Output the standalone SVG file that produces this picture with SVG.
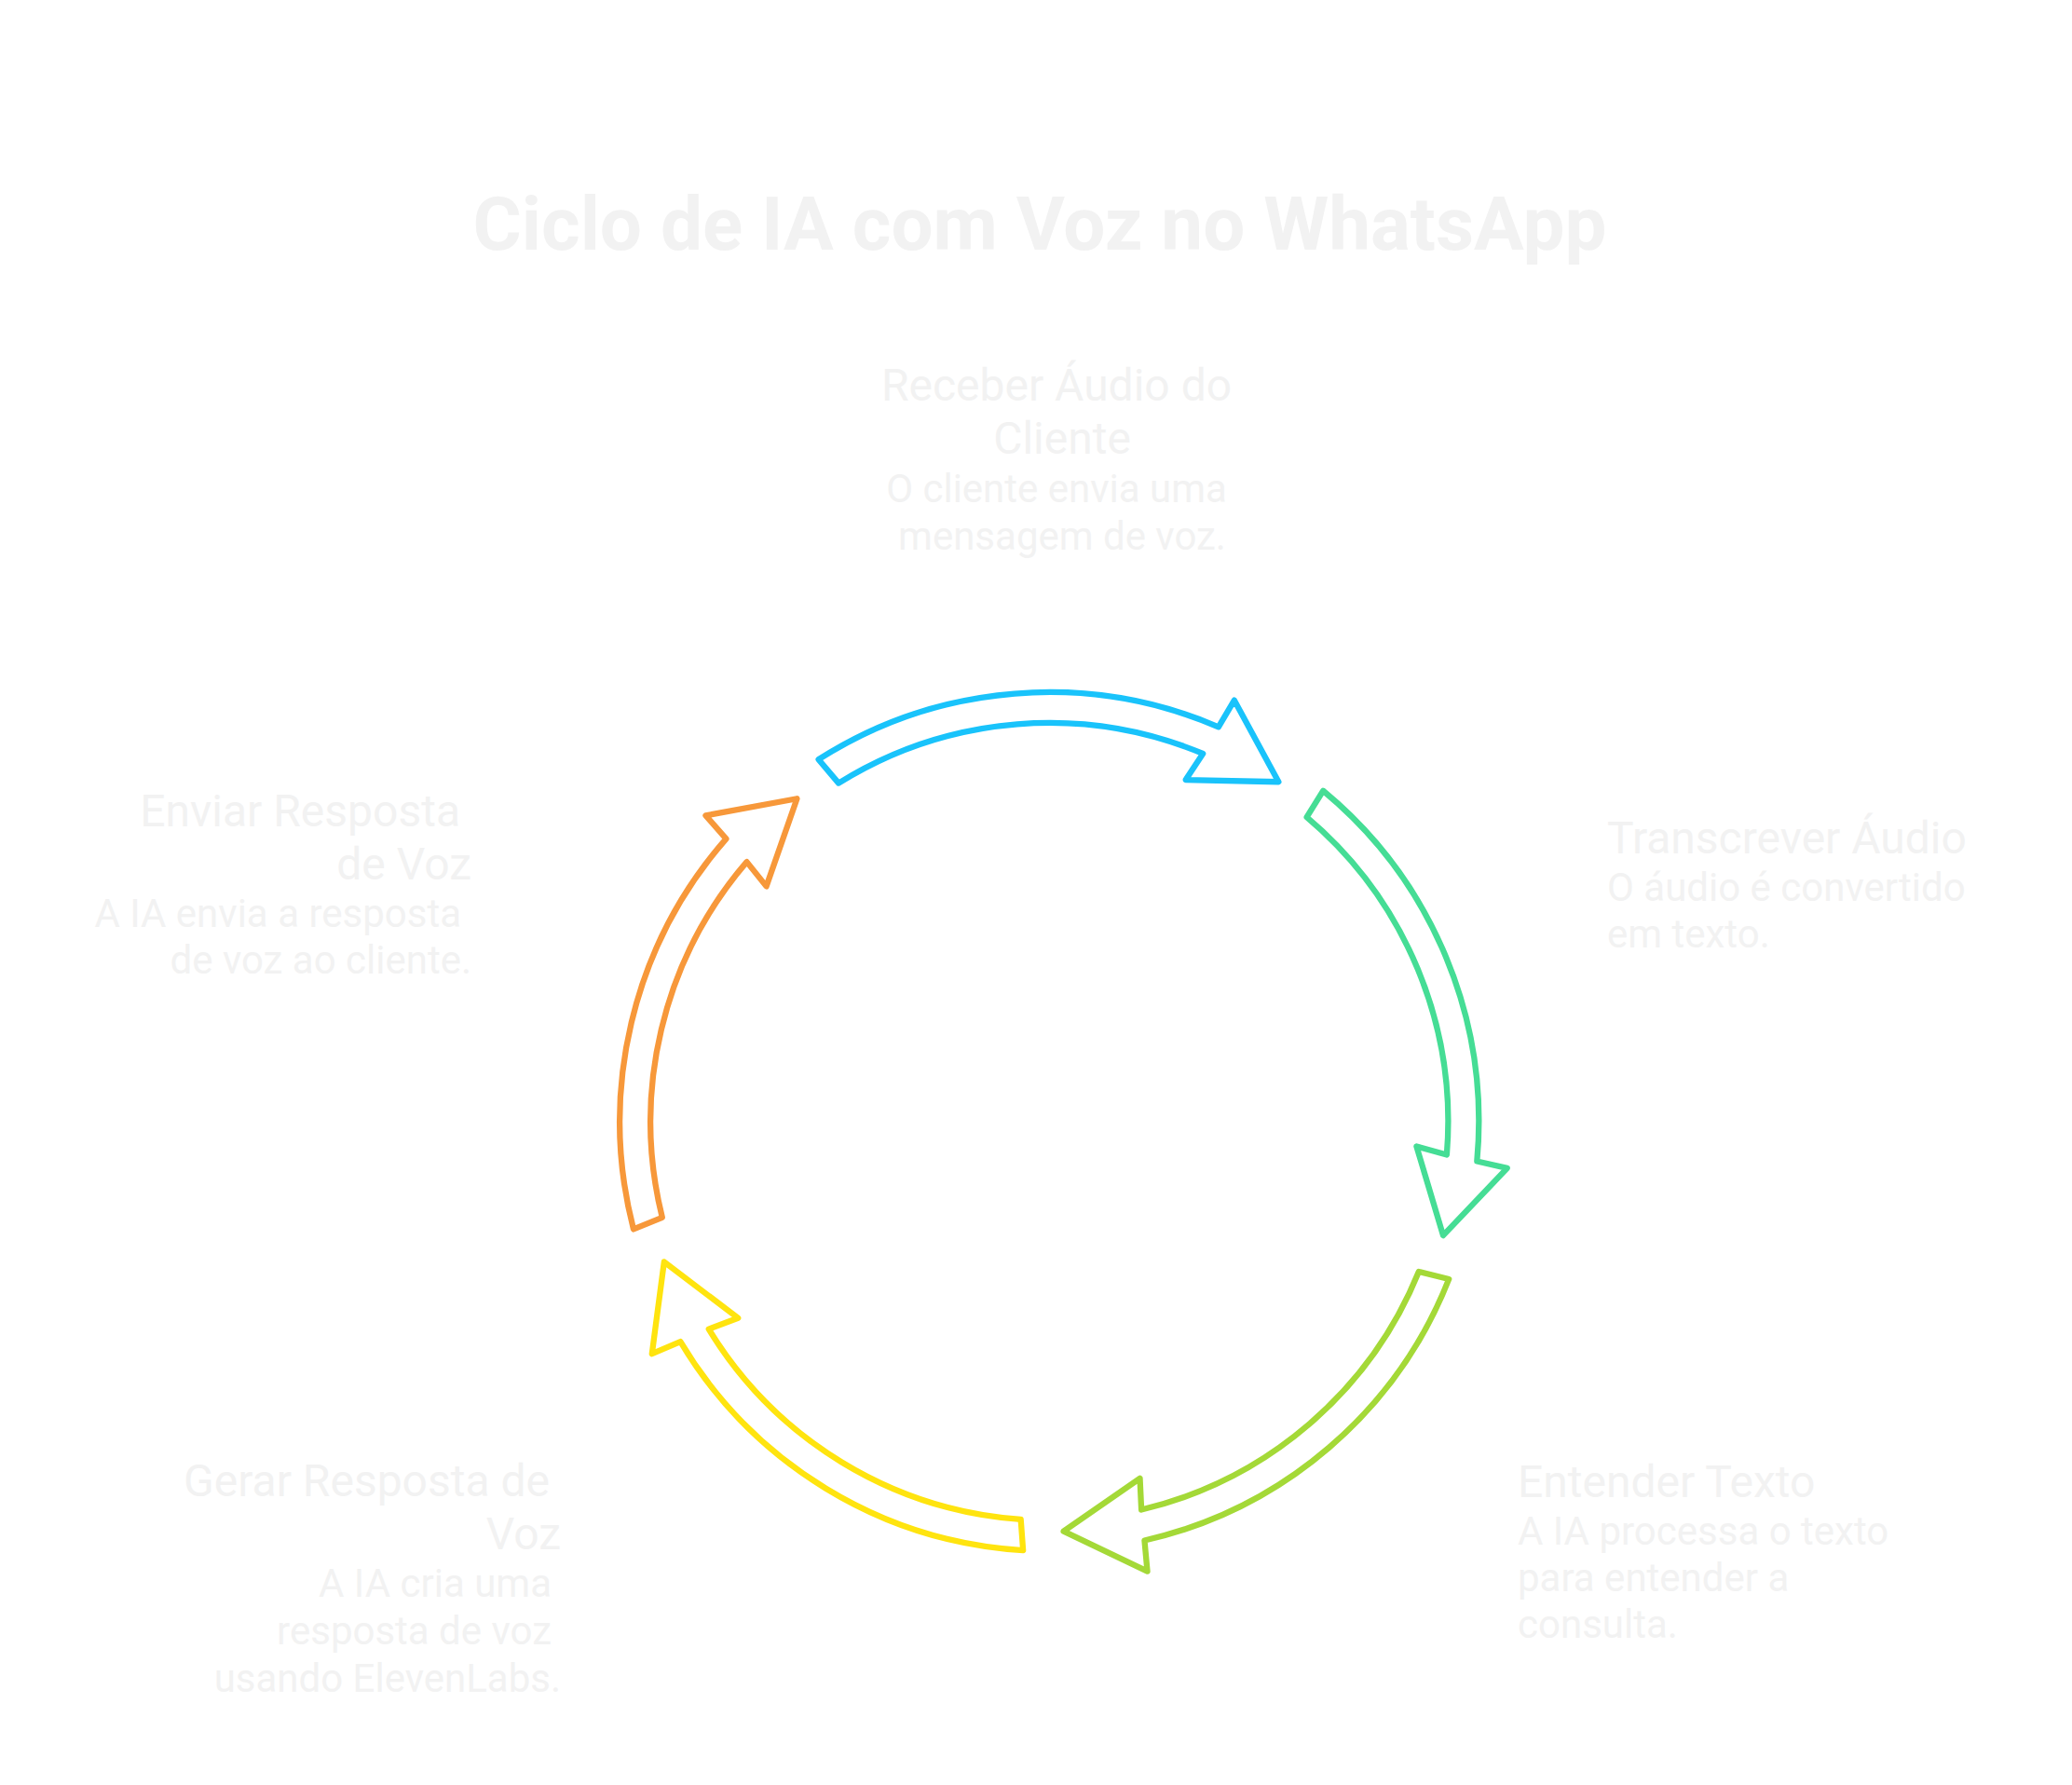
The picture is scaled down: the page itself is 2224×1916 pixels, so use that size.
<svg xmlns="http://www.w3.org/2000/svg" width="2224" height="1916" viewBox="0 0 2224 1916">
<style>
  .bg { fill: #ffffff; }
  .title { font-family: Roboto, "Liberation Sans", sans-serif; font-weight: 700; font-size: 80px; fill: #F2F2F2; }
  .h { font-family: Roboto, "Liberation Sans", sans-serif; font-size: 48px; fill: #F2F2F2; }
  .d { font-family: Roboto, "Liberation Sans", sans-serif; font-size: 42px; fill: #F2F2F2; }
  .arrow { fill: #ffffff; stroke-width: 6.3; stroke-linejoin: round; stroke-linecap: round; }
</style>
<defs>
  <path id="arrowShape" d="M461,0 A461,461 0 0 1 259.8,380.8 L274.8,410.5 L175.4,403.5 L230.8,320.6 L244.6,351.3 A428,428 0 0 0 428,4.5 Z"/>
</defs>
<rect class="bg" x="0" y="0" width="2224" height="1916"/>
<text class="title" x="1116" y="268" text-anchor="middle">Ciclo de IA com Voz no WhatsApp</text>

<g id="connectors">
  <use href="#arrowShape" class="arrow" stroke="#19C3FB" transform="translate(1126.3,1204) rotate(-122.5)"/>
  <use href="#arrowShape" class="arrow" stroke="#45DD95" transform="translate(1126.3,1204) rotate(-50.4)"/>
  <use href="#arrowShape" class="arrow" stroke="#A4D937" transform="translate(1126.3,1204) rotate(21.5)"/>
  <use href="#arrowShape" class="arrow" stroke="#FFE40F" transform="translate(1126.3,1204) rotate(93.5)"/>
  <use href="#arrowShape" class="arrow" stroke="#F7983A" transform="translate(1126.3,1204) rotate(165.5)"/>
</g>

<g id="node-receber">
  <text class="h" x="1134" y="430" text-anchor="middle">Receber Áudio do</text>
  <text class="h" x="1140" y="487" text-anchor="middle">Cliente</text>
  <text class="d" x="1134" y="539" text-anchor="middle">O cliente envia uma</text>
  <text class="d" x="1140" y="590" text-anchor="middle">mensagem de voz.</text>
</g>

<g id="node-transcrever">
  <text class="h" x="1725" y="916">Transcrever Áudio</text>
  <text class="d" x="1725" y="967">O áudio é convertido</text>
  <text class="d" x="1725" y="1017">em texto.</text>
</g>

<g id="node-entender">
  <text class="h" x="1629" y="1607">Entender Texto</text>
  <text class="d" x="1629" y="1658">A IA processa o texto</text>
  <text class="d" x="1629" y="1708">para entender a</text>
  <text class="d" x="1629" y="1758">consulta.</text>
</g>

<g id="node-gerar">
  <text class="h" x="590" y="1606" text-anchor="end">Gerar Resposta de</text>
  <text class="h" x="602" y="1663" text-anchor="end">Voz</text>
  <text class="d" x="592" y="1714" text-anchor="end">A IA cria uma</text>
  <text class="d" x="592" y="1765" text-anchor="end">resposta de voz</text>
  <text class="d" x="602" y="1816" text-anchor="end">usando ElevenLabs.</text>
</g>

<g id="node-enviar">
  <text class="h" x="494" y="887" text-anchor="end">Enviar Resposta</text>
  <text class="h" x="506" y="944" text-anchor="end">de Voz</text>
  <text class="d" x="495" y="995" text-anchor="end">A IA envia a resposta</text>
  <text class="d" x="506" y="1045" text-anchor="end">de voz ao cliente.</text>
</g>
</svg>
